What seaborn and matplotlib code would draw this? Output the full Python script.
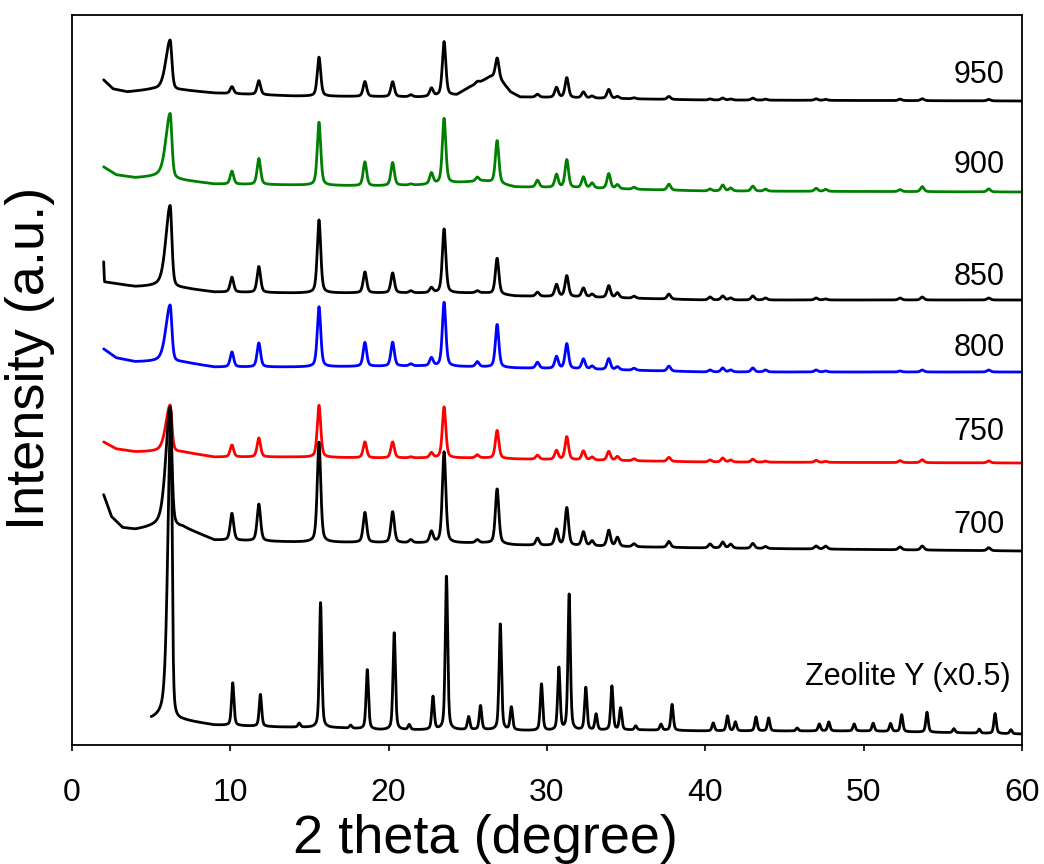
import numpy as np
import pandas as pd
import matplotlib
matplotlib.use("Agg")
import matplotlib.pyplot as plt
import seaborn as sns

# XRD patterns of zeolite Y and the samples calcined at 700-950
# intensity in arbitrary units (stacked offsets included)

# peak positions (2 theta) shared by the calcined samples
calc_peaks = [6.2, 10.1, 11.8, 15.6, 18.5, 20.25, 21.4, 22.7, 23.5, 25.6, 26.85,
              29.4, 30.6, 31.25, 32.3, 32.85, 33.9, 34.45, 35.5, 37.7, 40.3, 41.1,
              41.6, 43.0, 43.8, 47.0, 47.6, 52.3, 53.7, 57.9]

# peak heights above background, one list per sample
h_950 = [50, 7, 14, 39, 15, 15, 2, 8, 54, 2, 19, 3, 10, 20, 6, 2, 9, 2, 1, 3, 1, 2, 1, 2, 1, 1.5, 1, 1.5, 2, 1.5]
h_900 = [65, 13, 26, 63, 24, 23, 1, 11, 65, 4, 43, 7, 13, 28, 11, 5, 15, 4, 2, 6, 2, 6, 3, 5, 2, 3, 2, 2, 5, 3]
h_850 = [82, 15, 26, 73, 21, 20, 2, 5, 64, 2, 36, 4, 12, 21, 9, 3, 12, 5, 2, 5, 3, 4, 2, 4, 2, 2, 1, 2, 3, 2]
h_800 = [57, 15, 24, 60, 24, 24, 2, 8, 64, 5, 43, 6, 12, 25, 10, 3, 11, 3, 2, 5, 2, 4, 2, 4, 2, 2, 1, 1, 2, 2]
h_750 = [47, 12, 19, 52, 16, 16, 1, 5, 51, 3, 28, 4, 9, 23, 9, 3, 9, 4, 2, 4, 2, 4, 2, 3, 1, 2, 1, 2, 3, 2]
h_700 = [120, 27, 37, 100, 30, 31, 3, 11, 91, 3, 55, 7, 16, 38, 14, 5, 16, 9, 3, 6, 4, 6, 4, 5, 2, 3, 3, 3, 4, 3]

# background (2 theta, intensity) for each sample
bg_950 = [(2.0, 665), (2.6, 656), (3.5, 653), (5.0, 655), (7, 655), (9, 652), (14, 649), (22, 648),
          (24.3, 650), (25.0, 657), (25.8, 663), (26.4, 668), (26.9, 668), (27.7, 653), (28.3, 648),
          (32, 647), (40, 645), (60, 644)]
bg_900 = [(2.0, 578), (2.8, 570), (4.0, 567), (5.5, 568), (7, 565), (9, 561), (14, 560), (19, 559),
          (22, 560), (24, 562), (26, 564), (28, 558), (32, 557), (40, 554), (60, 553)]
bg_850 = [(2.0, 483), (2.05, 463), (4.0, 458), (5.5, 458), (7, 457), (9, 453), (14, 452), (22, 452),
          (26, 452), (28, 449), (32, 448), (40, 445), (60, 445)]
bg_800 = [(2.0, 396), (2.8, 387), (4.0, 383), (5.5, 383), (7, 383), (9, 378), (14, 378), (22, 379),
          (26, 378), (28, 377), (32, 376), (40, 373), (60, 373)]
bg_750 = [(2.0, 303), (2.8, 296), (4.0, 293), (5.5, 293), (7, 293), (9, 288), (14, 288), (19, 287),
          (26, 287), (28, 286), (32, 285), (40, 283), (60, 282)]
bg_700 = [(2.0, 250), (2.5, 228), (3.2, 217), (4.0, 215), (5.5, 218), (7, 218), (9, 205), (14, 203),
          (22, 202), (26, 202), (28, 200), (32, 199), (40, 197), (60, 194)]

# zeolite Y (plotted x0.5)
zy_peaks = [6.25, 10.15, 11.9, 14.35, 15.7, 17.6, 18.65, 20.35, 21.3, 22.8, 23.65, 25.05, 25.8,
            27.05, 27.75, 29.65, 30.75, 31.4, 32.45, 33.1, 34.1, 34.65, 35.6, 37.2, 37.9, 40.5,
            41.4, 41.9, 43.2, 44.0, 45.8, 47.2, 47.8, 49.4, 50.6, 51.7, 52.4, 54.0, 55.7, 57.3,
            58.3, 59.3]
zy_h = [310, 43, 32, 4, 125, 3, 60, 98, 5, 33, 155, 13, 24, 107, 23, 47, 63, 136, 43, 16, 44, 22,
        4, 6, 26, 8, 15, 9, 14, 13, 3, 7, 9, 7, 8, 8, 17, 20, 4, 4, 20, 4]
bg_zy = [(5.0, 24), (7, 25), (9, 20), (13, 18), (17, 17), (19.5, 15), (26, 15), (30, 14), (36, 15),
         (40, 14), (50, 14), (60, 11)]

samples = ["950", "900", "850", "800", "750", "700", "Zeolite Y (x0.5)"]
colors = ["black", "#008000", "black", "#0000ff", "#ff0000", "black", "black"]
label_y = [670, 580, 468, 397, 313, 220, 68]


def profile(x, peaks, heights, bg, w):
    bx, by = zip(*bg)
    y = np.interp(x, bx, by)
    for p, h in zip(peaks, heights):
        # low-angle peak has a longer tail on its left side
        left = w * 2.5 if p < 7 else w
        width = np.where(x < p, left, w)
        lor = 1.0 / (1.0 + ((x - p) / width) ** 2)
        gau = np.exp(-np.log(2) * ((x - p) / width) ** 2)
        y = y + h * (0.45 * lor + 0.55 * gau)
    return y


frames = []
calc = [(h_950, bg_950), (h_900, bg_900), (h_850, bg_850), (h_800, bg_800),
        (h_750, bg_750), (h_700, bg_700)]
for name, (h, bg) in zip(samples[:6], calc):
    x = np.arange(2.0, 60.001, 0.02)
    frames.append(pd.DataFrame({"two_theta": x, "intensity": profile(x, calc_peaks, h, bg, 0.13),
                                "sample": name}))
x = np.arange(5.0, 60.001, 0.02)
frames.append(pd.DataFrame({"two_theta": x, "intensity": profile(x, zy_peaks, zy_h, bg_zy, 0.09),
                            "sample": samples[6]}))
df = pd.concat(frames, ignore_index=True)

sns.set_style("ticks")
plt.rcParams["font.family"] = ["Liberation Sans", "DejaVu Sans"]
plt.rcParams["text.color"] = "black"
plt.rcParams["axes.labelcolor"] = "black"
plt.rcParams["xtick.color"] = "black"

fig = plt.figure(figsize=(10.44, 8.64), dpi=100)
ax = fig.add_axes([72 / 1044, 119 / 864, 950 / 1044, 730 / 864])
sns.lineplot(data=df, x="two_theta", y="intensity", hue="sample", palette=dict(zip(samples, colors)),
             estimator=None, sort=False, legend=False, linewidth=2.0, ax=ax)

for name, yy in zip(samples, label_y):
    xx = 59.3 if name.startswith("Zeolite") else 58.9
    ax.text(xx, yy, name, ha="right", va="center", fontsize=22, color="black")

ax.set_xlim(0, 60)
ax.set_ylim(0, 730)
ax.set_xticks(range(0, 61, 10))
ax.set_yticks([])
ax.tick_params(axis="x", direction="out", length=4, width=1.2, labelsize=23, pad=20, top=False,
               colors="black")
for s in ax.spines.values():
    s.set_linewidth(1.3)
    s.set_color("black")
ax.set_xlabel("2 theta (degree)", fontsize=39)
ax.set_ylabel("Intensity (a.u.)", fontsize=39)
ax.xaxis.set_label_coords(0.435, -0.095)
ax.xaxis.label.set_va("top")
ax.yaxis.set_label_coords(-0.018, 0.53)

fig.savefig("out.png", dpi=100)
